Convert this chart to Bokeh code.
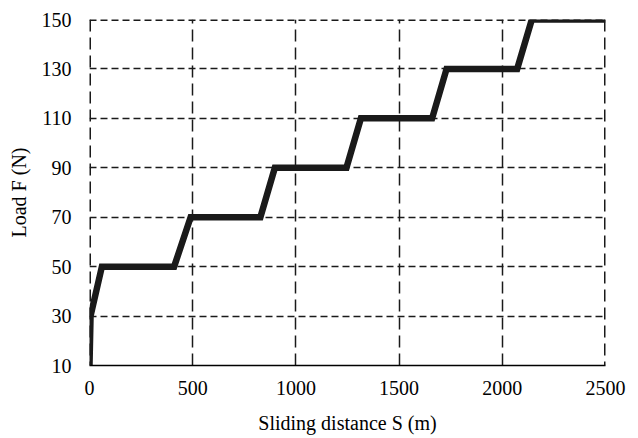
from bokeh.plotting import figure
from bokeh.models import FixedTicker, Range1d, Span
from bokeh.embed import file_html
from bokeh.resources import INLINE

# Data
distance_m = [0, 5, 60, 410, 490, 828, 898, 1245, 1315, 1660, 1730, 2072, 2143, 2500]
load_n = [10, 30, 50, 50, 70, 70, 90, 90, 110, 110, 130, 130, 150, 150]
x_ticks = [0, 500, 1000, 1500, 2000, 2500]
y_ticks = [10, 30, 50, 70, 90, 110, 130, 150]

FONT = "Liberation Serif"
GRID = "#1a1a1a"
XDASH = "12 6"
YDASH = "7 4"

p = figure(width=638, height=438, output_backend="svg", toolbar_location=None,
           x_range=Range1d(x_ticks[0], x_ticks[-1]), y_range=Range1d(y_ticks[0], y_ticks[-1]),
           min_border_left=89, min_border_right=33, min_border_top=19, min_border_bottom=73)
p.outline_line_color = None
p.background_fill_color = "white"
p.border_fill_color = "white"

p.xaxis.ticker = FixedTicker(ticks=x_ticks)
p.yaxis.ticker = FixedTicker(ticks=y_ticks)

for ax in (p.xaxis, p.yaxis):
    ax.major_tick_in = 0
    ax.major_tick_out = 0
    ax.minor_tick_line_color = None
    ax.major_label_text_font = FONT
    ax.major_label_text_font_size = "20px"
    ax.major_label_text_color = "black"
    ax.axis_label_text_font = FONT
    ax.axis_label_text_font_size = "20px"
    ax.axis_label_text_font_style = "normal"
    ax.axis_label_text_color = "black"

p.xaxis.axis_line_color = "black"
p.xaxis.axis_line_width = 1.5
p.yaxis.axis_line_color = None
p.xaxis.axis_label = "Sliding distance S (m)"
p.yaxis.axis_label = "Load F (N)"
p.xaxis.major_label_standoff = 15
p.yaxis.major_label_standoff = 18
p.xaxis.axis_label_standoff = 14
p.yaxis.axis_label_standoff = 9

p.xgrid.grid_line_color = GRID
p.xgrid.grid_line_dash = XDASH
p.xgrid.grid_line_width = 1.5
p.ygrid.grid_line_color = GRID
p.ygrid.grid_line_dash = YDASH
p.ygrid.grid_line_width = 1.5

# edge grid lines that Bokeh skips at the range bounds (half clipped by the frame)
for loc in (x_ticks[0], x_ticks[-1]):
    p.add_layout(Span(location=loc, dimension="height", line_color=GRID,
                      line_dash=XDASH, line_width=3))
p.add_layout(Span(location=y_ticks[-1], dimension="width", line_color=GRID,
                  line_dash=YDASH, line_width=3))

p.line(distance_m, load_n, line_width=6.5, line_color="#1a1a1a", line_join="miter")

open("out.html", "w").write(file_html(p, INLINE))
